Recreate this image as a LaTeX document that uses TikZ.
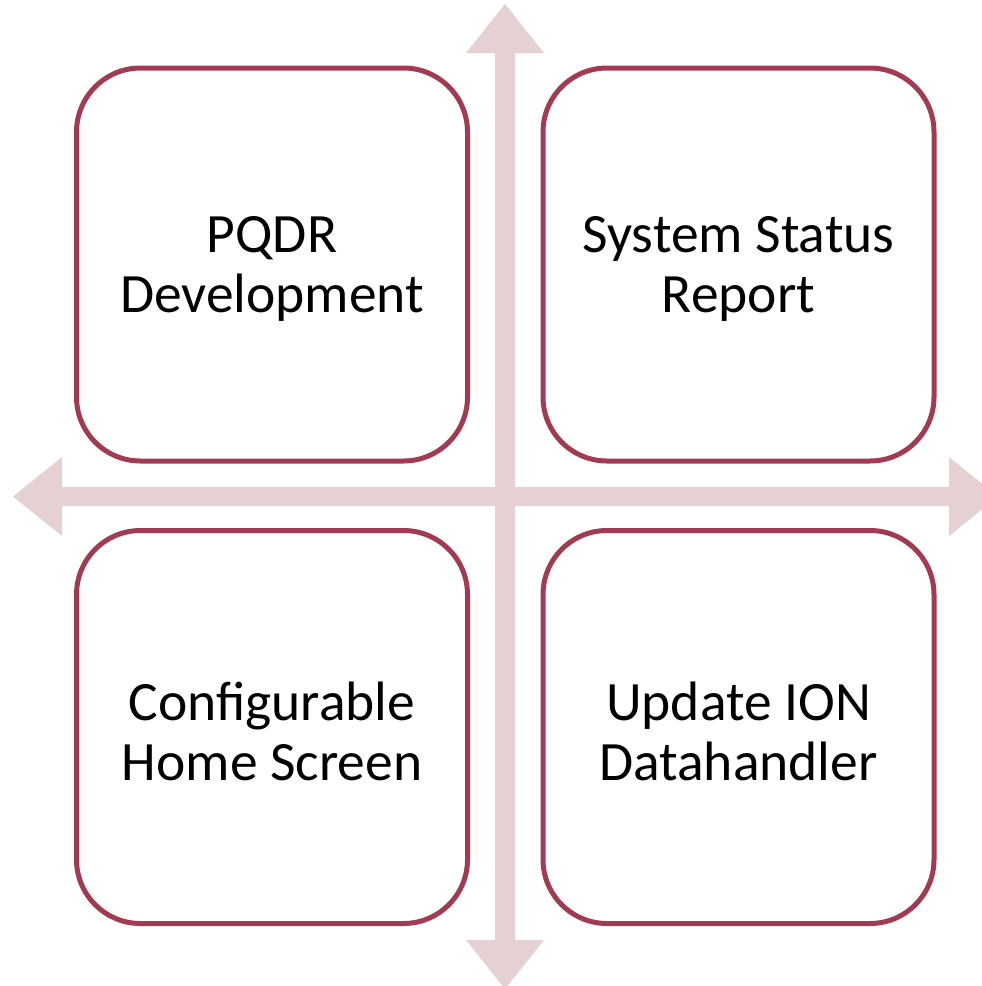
\documentclass[tikz,border=0pt]{standalone}
\usepackage{fontspec}
\setmainfont{Carlito}
\definecolor{boxline}{RGB}{162,59,82}
\definecolor{axisfill}{RGB}{229,208,210}
\begin{document}
\begin{tikzpicture}[x=1pt,y=-1pt,
  quad/.style={draw=boxline, line width=5pt, fill=white, rounded corners=64pt,
    minimum width=391pt, minimum height=393pt, inner sep=0pt},
  lbl/.style={inner sep=0pt, align=center, font=\fontsize{55.5}{60}\selectfont}]
\useasboundingbox (0,0) rectangle (982,986);
\clip (0,0) rectangle (982,986);
% axes
\fill[axisfill] (495,53) -- (466,53) -- (505,4) -- (544,53) -- (515,53)
  -- (515,940) -- (544,940) -- (505,989) -- (466,940) -- (495,940) -- cycle;
\fill[axisfill] (62,487) -- (62,457) -- (13,496.5) -- (62,536) -- (62,506)
  -- (949,506) -- (949,536) -- (998,496.5) -- (949,457) -- (949,487) -- cycle;
% boxes
\node[quad] (tl) at (272,264.5) {};
\node[quad] (tr) at (738.5,264.5) {};
\node[quad] (bl) at (272,727) {};
\node[quad] (br) at (738.5,727) {};
% texts
\node[lbl] (tlt) at ([yshift=-4pt]tl.center) {PQDR\\Development};
\node[lbl] (trt) at ([yshift=-4pt]tr.center) {System Status\\Report};
\node[lbl] (blt) at ([yshift=-4pt]bl.center) {Configurable\\Home Screen};
\node[lbl] (brt) at ([yshift=-4pt]br.center) {Update ION\\Datahandler};
\end{tikzpicture}
\end{document}
